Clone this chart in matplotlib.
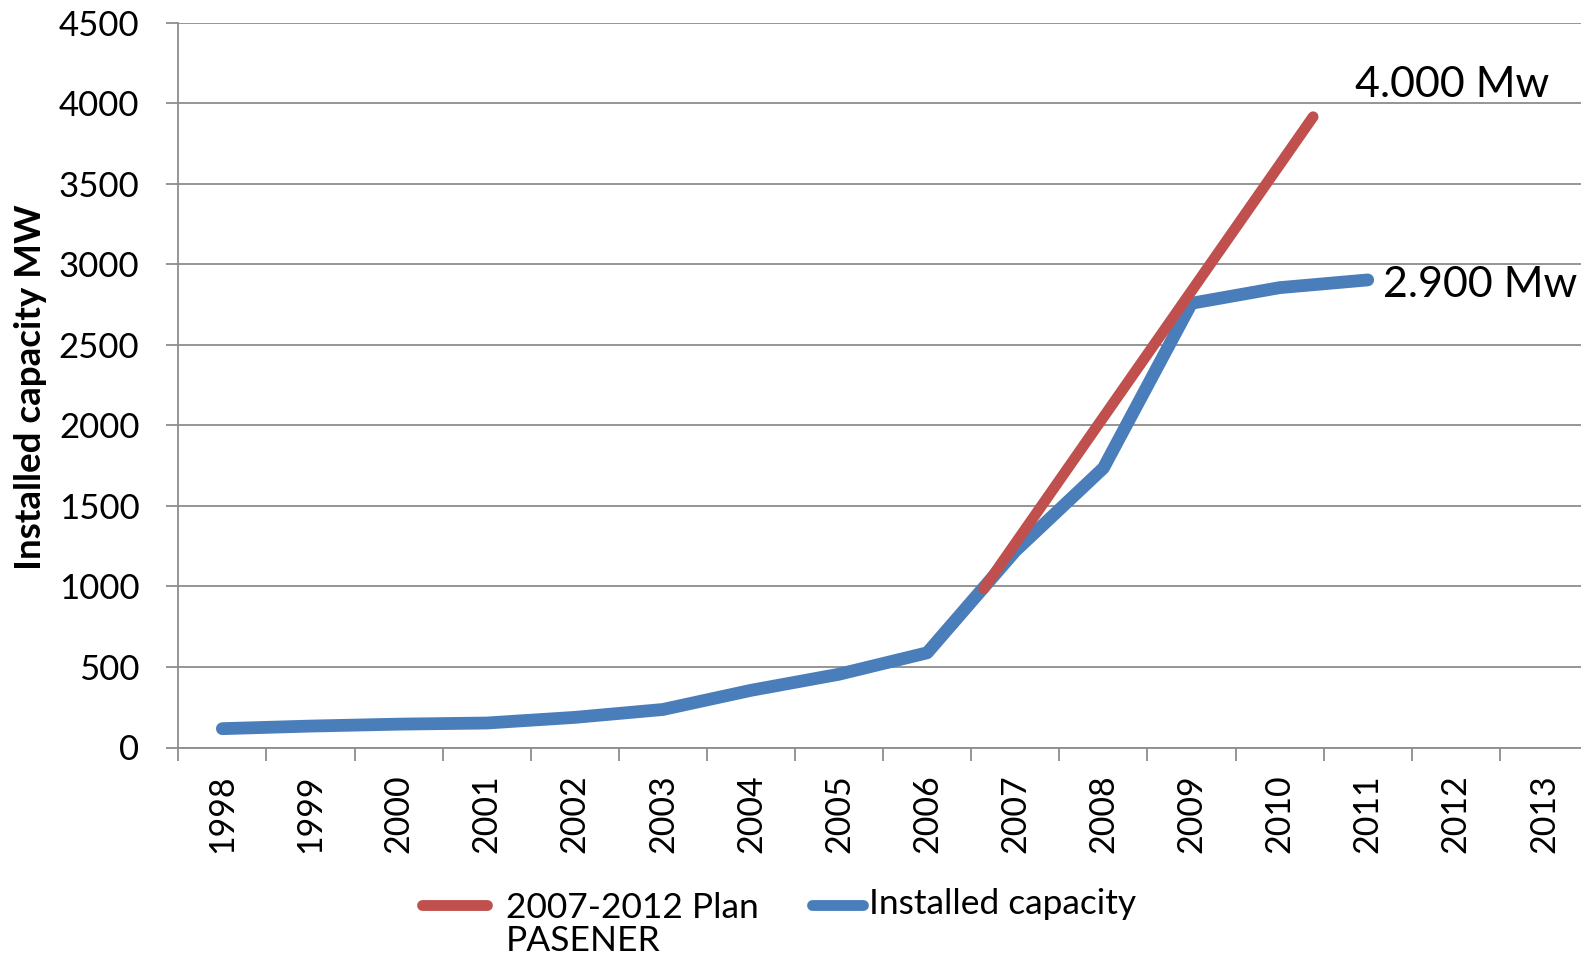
import matplotlib
matplotlib.use("Agg")
import matplotlib.pyplot as plt
from matplotlib.lines import Line2D

# Category axis: one slot per year
years = ["1998", "1999", "2000", "2001", "2002", "2003", "2004", "2005",
         "2006", "2007", "2008", "2009", "2010", "2011", "2012", "2013"]

# Installed wind capacity (MW)
installed_years = [1998, 1999, 2000, 2001, 2002, 2003, 2004, 2005,
                   2006, 2007, 2008, 2009, 2010, 2011]
installed_mw = [117, 133, 145, 152, 187, 236, 355, 455,
                588, 1220, 1735, 2758, 2855, 2903]

# 2007-2012 PASENER plan trajectory (MW)
plan_years = [2006.64, 2010.38]
plan_mw = [985, 3916]

plan_label = "2007-2012 Plan\nPASENER"
installed_label = "Installed capacity"
plan_note = "4.000 Mw"
installed_note = "2.900 Mw"

BLUE = "#4A7EBB"
RED = "#C0504D"
GRID = "#8C8C8C"

plt.rcParams['font.family'] = ['Lato', 'DejaVu Sans']

W, H = 1581, 957
fig = plt.figure(figsize=(W / 100, H / 100), dpi=100)


def fx(px):
    return px / W


def fy(py):
    return 1 - py / H


ax = fig.add_axes([fx(178.3), fy(747.5), fx(1588) - fx(178.3),
                   fy(22.7) - fy(747.5)])

first = int(years[0])


def slot(ys):
    return [y - first for y in ys]


ax.plot(slot(installed_years), installed_mw, color=BLUE, lw=9.2,
        solid_capstyle='round', solid_joinstyle='round', zorder=3)
ax.plot(slot(plan_years), plan_mw, color=RED, lw=7.8,
        solid_capstyle='round', solid_joinstyle='round', zorder=4)

ax.set_xlim(-0.5, len(years) - 0.5)
ax.set_ylim(0, 4500)
ax.set_yticks(range(0, 4501, 500))
ax.yaxis.grid(True, color=GRID, lw=1.3)
ax.set_axisbelow(True)

# tick marks on slot boundaries, labels in slot centres
ax.set_xticks([i - 0.5 for i in range(len(years) + 1)])
ax.set_xticklabels([])
ax.set_xticks(range(len(years)), minor=True)
ax.set_xticklabels(years, minor=True, rotation=90)
ax.tick_params(axis='x', which='major', length=9, width=1.3, color=GRID,
               direction='out')
ax.tick_params(axis='x', which='minor', length=0, pad=19.5, labelsize=24.5)
ax.tick_params(axis='y', length=9, width=1.3, color=GRID, pad=19,
               labelsize=25)

for s in ['top', 'right']:
    ax.spines[s].set_visible(False)
for s in ['left', 'bottom']:
    ax.spines[s].set_color(GRID)
    ax.spines[s].set_linewidth(1.3)

ax.set_ylabel("Installed capacity MW", fontweight='bold', fontsize=26.5)
ax.yaxis.label.set_va('center')
ax.yaxis.label.set_rotation_mode('anchor')
ax.yaxis.set_label_coords((30.5 - 178.3) / (1588 - 178.3), 0.4967)

ax.text(12.86, 4040, plan_note, fontsize=31, va='baseline', ha='left',
        clip_on=False)
ax.text(13.17, 2799, installed_note, fontsize=31, va='baseline', ha='left',
        clip_on=False)

# legend below the axis
fig.add_artist(Line2D([fx(421.5), fx(487)], [fy(904.5), fy(904.5)],
                      transform=fig.transFigure, color=RED, lw=7.8,
                      solid_capstyle='round'))
fig.text(fx(506), fy(924.5), plan_label, fontsize=25.5, va='center',
         ha='left', linespacing=1.07)
fig.add_artist(Line2D([fx(812), fx(863)], [fy(904.5), fy(904.5)],
                      transform=fig.transFigure, color=BLUE, lw=7.8,
                      solid_capstyle='round'))
fig.text(fx(869), fy(904), installed_label, fontsize=25.5, va='center',
         ha='left')

fig.savefig("out.png", dpi=100)
